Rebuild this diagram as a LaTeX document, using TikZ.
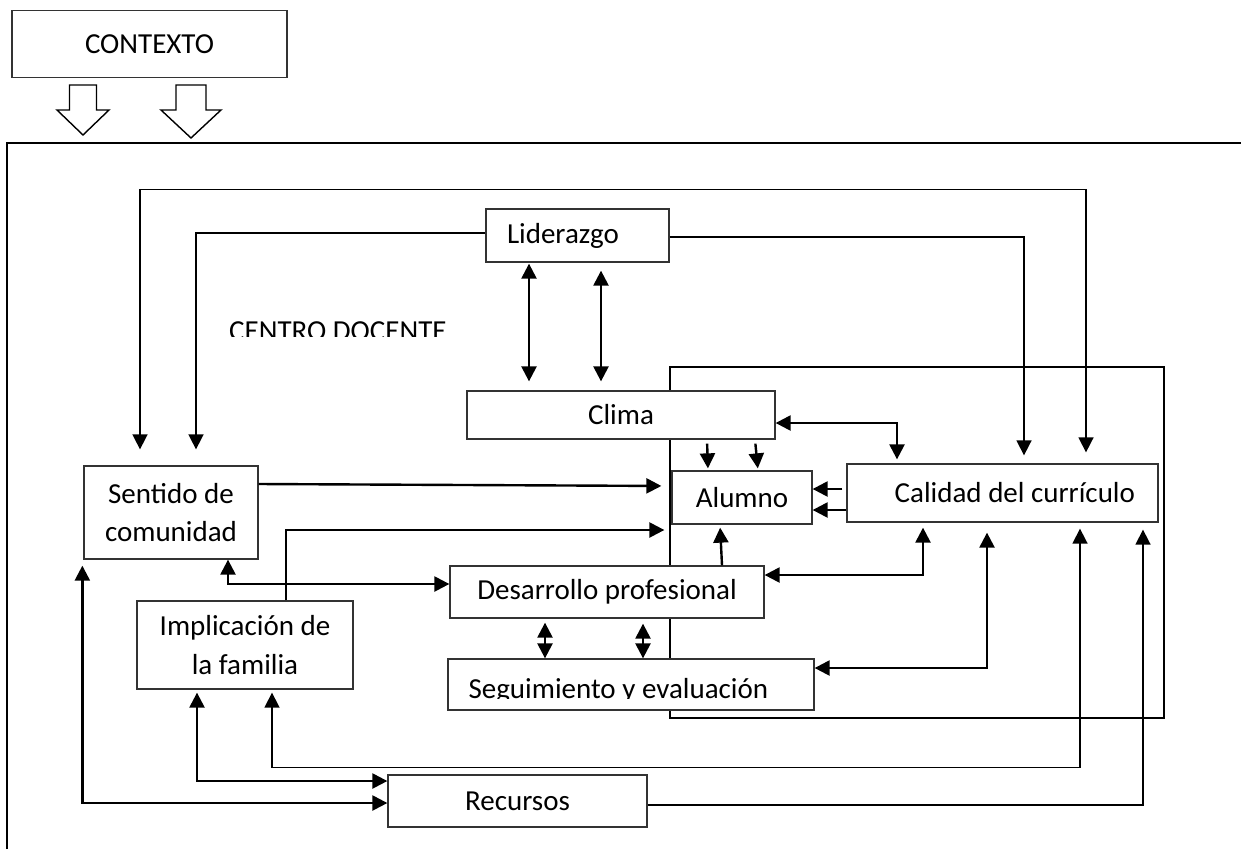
\documentclass[tikz,border=0pt]{standalone}
\usepackage{fontspec}
\setmainfont{Carlito}
\usetikzlibrary{arrows.meta}

\begin{document}
\begin{tikzpicture}[x=1pt,y=-1pt,>={Triangle[length=15pt,width=15pt]},
  font=\fontsize{29}{38.5}\selectfont,
  box/.style={draw=black!80,fill=white,line width=1.3pt,inner sep=0pt,align=center},
  link/.style={line width=2.4pt},
  feed/.style={line width=1.6pt}]
\useasboundingbox (0,0) rectangle (1241,849);
\draw[line width=2.2pt] (7,849) -- (7,143) -- (1241,143);
\draw[line width=2.4pt] (670,367) rectangle (1164,718);

\node[box,minimum width=275pt,minimum height=67pt] (ctx) at (149.5,44) {CONTEXTO};
\node[box,minimum height=53pt,text width=141pt,align=flush left,inner xsep=21pt] (lid) at (577.5,235.5) {Liderazgo};
\node[box,minimum width=308pt,minimum height=48pt] (clima) at (621,415) {Clima};
\node[box,minimum width=140pt,minimum height=53pt] (alum) at (742,497.5) {Alumno};
\node[box,minimum height=58pt,text width=265pt,align=flush right,inner xsep=23pt] (curr) at (1002.5,493) {Calidad del currículo};
\node[box,minimum width=174pt,minimum height=93pt] (com) at (171,512.5) {Sentido de\\comunidad};
\node[box,minimum width=216pt,minimum height=88pt] (fam) at (245,645) {Implicación de\\la familia};
\node[box,minimum width=314pt,minimum height=52pt] (prof) at (607,592) {Desarrollo profesional};
\node[box,minimum width=366pt,minimum height=51pt] (eval) at (631,684.5) {};
\node[box,minimum width=259pt,minimum height=52pt] (rec) at (517.5,801) {Recursos};

\begin{scope}
  \clip (eval.north west) rectangle ([yshift=-14pt]eval.east);
  \node[anchor=base west,inner sep=0pt] (evaltxt) at ([xshift=21pt,yshift=-14.2pt]eval.west) {Seguimiento y evaluación};
\end{scope}
\begin{scope}
  \clip (200,300) rectangle (480,336);
  \node[anchor=base west,inner sep=0pt] (centro) at (229,340.5) {CENTRO DOCENTE};
\end{scope}

\foreach \x/\sw/\hw/\ty in {83/13.5/26/135,191/15/30/138}
  \draw[line width=1.4pt] (\x-\sw,85) -- (\x+\sw,85) -- (\x+\sw,110) -- (\x+\hw,110)
    -- (\x,\ty) -- (\x-\hw,110) -- (\x-\sw,110) -- cycle;

\draw[<->,feed,shorten <=16pt,shorten >=11pt] ([xshift=-31pt]com.north) -- ++(0,-276) -| ([xshift=83.5pt]curr.north);
\draw[->,feed,shorten >=16pt] ([yshift=2.5pt]lid.west) -| ([xshift=25pt]com.north);
\draw[->,feed,shorten >=8pt] ([yshift=-1.5pt]lid.east) -| ([xshift=21.5pt]curr.north);

\path[<->,link] ([xshift=-48.5pt]lid.south) edge[shorten <=1pt,shorten >=9pt] ([xshift=-92pt]clima.north)
  ([xshift=23.5pt]lid.south) edge[shorten <=8pt,shorten >=9pt] ([xshift=-20pt]clima.north)
  ([xshift=-62pt]prof.south) edge[shorten <=4pt] ([xshift=-86pt]eval.north)
  ([xshift=36pt]prof.south) edge[shorten <=5pt] ([xshift=12pt]eval.north);
\path[->,link] ([xshift=86pt]clima.south) edge[shorten <=4pt,shorten >=2pt] ([xshift=-34pt]alum.north)
  ([xshift=134pt]clima.south) edge[shorten <=4pt,shorten >=2pt] ([xshift=16pt]alum.north)
  ([yshift=4pt]curr.west) edge[shorten <=4pt] ([yshift=8.5pt]alum.east)
  ([yshift=-17pt]curr.west) edge ([yshift=-12.5pt]alum.east)
  ([xshift=115pt]prof.north) edge[shorten >=3pt] ([xshift=-22pt]alum.south)
  ([yshift=28.5pt]com.east) edge[shorten >=10pt] ([yshift=11.5pt]alum.west);

\draw[<->,link,shorten >=4pt] ([yshift=-8pt]clima.east) -| ([xshift=-105.5pt]curr.north);
\draw[<->,link,shorten >=5pt] ([yshift=17pt]prof.east) -| ([xshift=-79.5pt]curr.south);
\draw[<->,link,shorten >=10pt] ([yshift=16.5pt]eval.east) -| ([xshift=-15.5pt]curr.south);
\draw[->,link,shorten >=7pt] ([xshift=41pt]fam.north) |- ([yshift=-32.5pt]alum.west);
\draw[<->,link] ([xshift=57pt]com.south) |- ([yshift=8pt]prof.west);
\draw[<->,link,shorten <=3pt] ([xshift=-48pt]fam.south) |- ([yshift=20pt]rec.west);
\draw[<->,link,shorten <=6pt] ([xshift=-1pt]com.south west) |- ([yshift=-2pt]rec.west);
\draw[<->,feed,shorten <=3pt,shorten >=6pt] ([xshift=27pt]fam.south) -- ++(0,78) -| ([xshift=77.5pt]curr.south);
\draw[->,feed,shorten >=7pt] ([yshift=-4pt]rec.east) -| ([xshift=140.5pt]curr.south);
\end{tikzpicture}
\end{document}
